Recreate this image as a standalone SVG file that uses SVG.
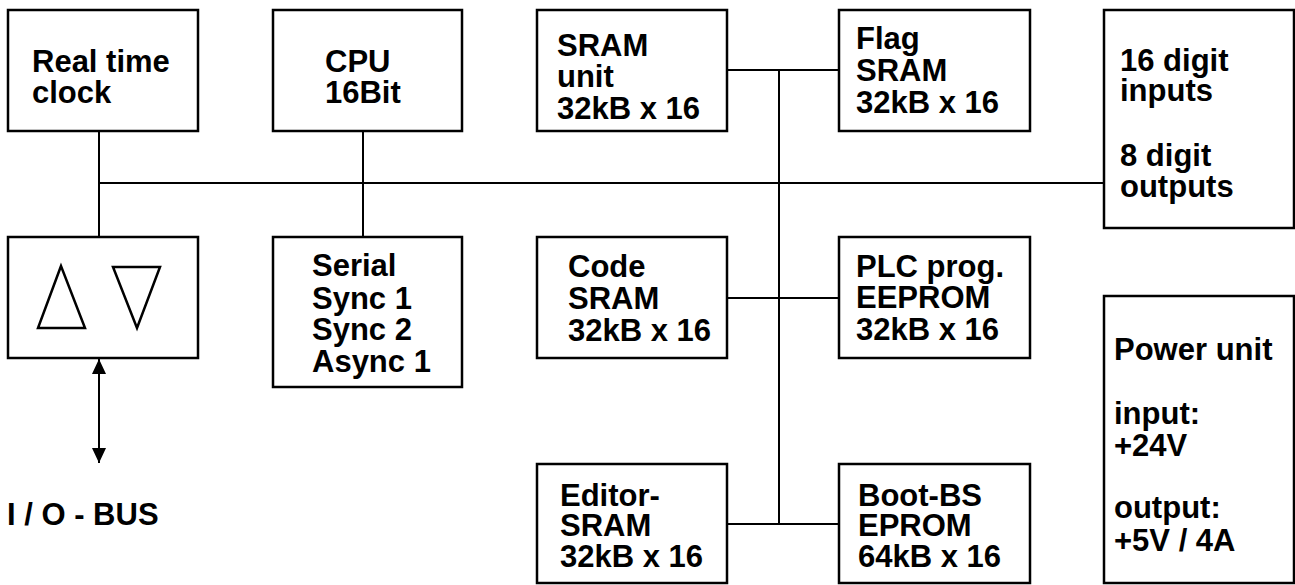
<svg xmlns="http://www.w3.org/2000/svg" width="1295" height="585" viewBox="0 0 1295 585">
<style>
.box{fill:#fff;stroke:#000;stroke-width:2.5}
.ln{fill:none;stroke:#000;stroke-width:2}
.tri{fill:none;stroke:#000;stroke-width:2.5;stroke-linejoin:miter}
text{font-family:"Liberation Sans",Arial,Helvetica,sans-serif;font-weight:bold;font-size:31px;fill:#000}
</style>
<defs>
<marker id="ah" viewBox="0 0 15 14" refX="15" refY="7" markerWidth="15" markerHeight="14" markerUnits="userSpaceOnUse" orient="auto-start-reverse">
<path d="M0,0 L15,7 L0,14 Z" fill="#000"/>
</marker>
</defs>
<rect width="1295" height="585" fill="#fff"/>
<g id="connectors">
<line class="ln" x1="99" y1="183" x2="1104" y2="183"/>
<line class="ln" x1="99" y1="131" x2="99" y2="237"/>
<line class="ln" x1="363" y1="131" x2="363" y2="237"/>
<line class="ln" x1="779" y1="70" x2="779" y2="524"/>
<line class="ln" x1="727" y1="70" x2="839" y2="70"/>
<line class="ln" x1="727" y1="298" x2="839" y2="298"/>
<line class="ln" x1="727" y1="524" x2="839" y2="524"/>
<line class="ln" x1="99" y1="359" x2="99" y2="463" marker-start="url(#ah)" marker-end="url(#ah)"/>
</g>
<g id="rtc">
<rect class="box" x="8" y="10" width="190" height="121"/>
<text x="32" y="72">Real time</text>
<text x="32" y="103">clock</text>
</g>
<g id="cpu">
<rect class="box" x="273" y="10" width="189" height="121"/>
<text x="325" y="72">CPU</text>
<text x="325" y="103">16Bit</text>
</g>
<g id="sram-unit">
<rect class="box" x="537" y="10" width="190" height="121"/>
<text x="557" y="56">SRAM</text>
<text x="557" y="87">unit</text>
<text x="557" y="119">32kB x 16</text>
</g>
<g id="flag-sram">
<rect class="box" x="839" y="10" width="191" height="121"/>
<text x="856" y="49">Flag</text>
<text x="856" y="81">SRAM</text>
<text x="856" y="113">32kB x 16</text>
</g>
<g id="digital-io">
<rect class="box" x="1104" y="10" width="190" height="218"/>
<text x="1120" y="71">16 digit</text>
<text x="1120" y="101">inputs</text>
<text x="1120" y="166">8 digit</text>
<text x="1120" y="197">outputs</text>
</g>
<g id="transceiver">
<rect class="box" x="8" y="237" width="190" height="121"/>
<polygon class="tri" points="61,266 38,328 85,328"/>
<polygon class="tri" points="113,267 160,267 137,328"/>
</g>
<g id="serial">
<rect class="box" x="273" y="237" width="189" height="150"/>
<text x="312" y="276">Serial</text>
<text x="312" y="309">Sync 1</text>
<text x="312" y="340">Sync 2</text>
<text x="312" y="372">Async 1</text>
</g>
<g id="code-sram">
<rect class="box" x="537" y="237" width="190" height="121"/>
<text x="568" y="277">Code</text>
<text x="568" y="309">SRAM</text>
<text x="568" y="341">32kB x 16</text>
</g>
<g id="plc-eeprom">
<rect class="box" x="839" y="237" width="191" height="121"/>
<text x="856" y="277">PLC prog.</text>
<text x="856" y="308">EEPROM</text>
<text x="856" y="340">32kB x 16</text>
</g>
<g id="power">
<rect class="box" x="1104" y="296" width="190" height="287"/>
<text x="1114" y="360">Power unit</text>
<text x="1114" y="424">input:</text>
<text x="1114" y="456">+24V</text>
<text x="1114" y="518">output:</text>
<text x="1114" y="551">+5V / 4A</text>
</g>
<g id="editor-sram">
<rect class="box" x="537" y="464" width="190" height="119"/>
<text x="560" y="506">Editor-</text>
<text x="560" y="536">SRAM</text>
<text x="560" y="567">32kB x 16</text>
</g>
<g id="boot-eprom">
<rect class="box" x="839" y="464" width="191" height="119"/>
<text x="858" y="506">Boot-BS</text>
<text x="858" y="536">EPROM</text>
<text x="858" y="567">64kB x 16</text>
</g>
<g id="io-bus-label">
<text x="7" y="525">I / O - BUS</text>
</g>
</svg>
